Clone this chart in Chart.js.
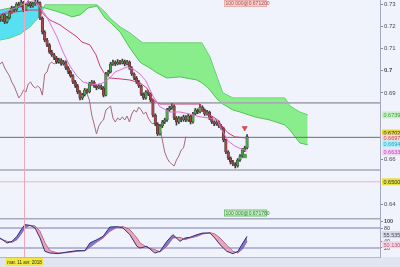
<!DOCTYPE html>
<html>
<head>
<meta charset="utf-8">
<script src="https://cdn.jsdelivr.net/npm/chart.js@4.4.1/dist/chart.umd.min.js"></script>
<style>
    html, body { margin: 0; padding: 0; background: #f0f2fc; }
    #wrap { position: relative; width: 400px; height: 267px; overflow: hidden; }
    canvas { position: absolute; left: 0; }
    #mainChart { top: 0; }
    #stochChart { top: 218px; }
</style>
</head>
<body>
<div id="wrap">
    <canvas id="mainChart" width="400" height="218"></canvas>
    <canvas id="stochChart" width="400" height="49"></canvas>
</div>
<script>
// Daily candles, AUD/USD style prices (index 0 = 28 mars 2018)
const firstOpen = 0.7240;
const closes = [
    0.7228, 0.7251, 0.7219, 0.7237, 0.7264, 0.7282, 0.7273, 0.7300, 0.7291, 0.7309,
    0.7273, 0.7296, 0.7305, 0.7291, 0.7300, 0.7309, 0.7305, 0.7237, 0.7174, 0.7138,
    0.7116, 0.7084, 0.7071, 0.7057, 0.7039, 0.7048, 0.7030, 0.7039, 0.7012, 0.6994,
    0.6976, 0.6949, 0.6931, 0.6904, 0.6877, 0.6891, 0.6913, 0.6904, 0.6940, 0.6949,
    0.6931, 0.6922, 0.6931, 0.6922, 0.6890, 0.6985, 0.6994, 0.7030, 0.7039, 0.7030,
    0.7039, 0.7034, 0.7043, 0.7030, 0.7039, 0.7012, 0.6985, 0.6967, 0.6949, 0.6931,
    0.6895, 0.6877, 0.6904, 0.6895, 0.6868, 0.6800, 0.6760, 0.6715, 0.6751, 0.6769,
    0.6778, 0.6823, 0.6832, 0.6841, 0.6787, 0.6769, 0.6787, 0.6778, 0.6792, 0.6778,
    0.6796, 0.6769, 0.6805, 0.6823, 0.6814, 0.6836, 0.6823, 0.6805, 0.6814, 0.6787,
    0.6769, 0.6760, 0.6769, 0.6751, 0.6742, 0.6688, 0.6634, 0.6607, 0.6589, 0.6580,
    0.6571, 0.6598, 0.6616, 0.6643, 0.6652, 0.6703
];
const highs = [
    0.7248, 0.7258, 0.7256, 0.7244, 0.7270, 0.7290, 0.7288, 0.7306, 0.7308, 0.7318,
    0.7312, 0.7302, 0.7314, 0.7310, 0.7308, 0.7320, 0.7322, 0.7310, 0.7242, 0.7180,
    0.7146, 0.7122, 0.7092, 0.7078, 0.7064, 0.7056, 0.7054, 0.7046, 0.7044, 0.7018,
    0.7000, 0.6982, 0.6956, 0.6938, 0.6910, 0.6898, 0.6920, 0.6918, 0.6948, 0.6956,
    0.6954, 0.6938, 0.6940, 0.6936, 0.6928, 0.6992, 0.7002, 0.7038, 0.7048, 0.7044,
    0.7050, 0.7046, 0.7052, 0.7048, 0.7046, 0.7044, 0.7018, 0.6990, 0.6974, 0.6956,
    0.6936, 0.6900, 0.6910, 0.6912, 0.6900, 0.6872, 0.6806, 0.6766, 0.6758, 0.6776,
    0.6786, 0.6830, 0.6840, 0.6852, 0.6846, 0.6794, 0.6794, 0.6792, 0.6800, 0.6798,
    0.6804, 0.6800, 0.6812, 0.6830, 0.6828, 0.6848, 0.6842, 0.6828, 0.6822, 0.6818,
    0.6792, 0.6774, 0.6776, 0.6774, 0.6758, 0.6746, 0.6692, 0.6640, 0.6612, 0.6596,
    0.6586, 0.6604, 0.6622, 0.6650, 0.6660, 0.6712
];
const lows = [
    0.7220, 0.7222, 0.7212, 0.7214, 0.7232, 0.7258, 0.7266, 0.7268, 0.7285, 0.7287,
    0.7265, 0.7270, 0.7290, 0.7284, 0.7286, 0.7295, 0.7298, 0.7230, 0.7165, 0.7130,
    0.7108, 0.7078, 0.7064, 0.7050, 0.7032, 0.7034, 0.7024, 0.7025, 0.7005, 0.6986,
    0.6970, 0.6942, 0.6924, 0.6896, 0.6868, 0.6870, 0.6886, 0.6898, 0.6900, 0.6934,
    0.6925, 0.6914, 0.6918, 0.6915, 0.6882, 0.6886, 0.6978, 0.6990, 0.7024, 0.7022,
    0.7026, 0.7028, 0.7030, 0.7022, 0.7026, 0.7006, 0.6978, 0.6960, 0.6942, 0.6924,
    0.6888, 0.6870, 0.6872, 0.6888, 0.6860, 0.6792, 0.6752, 0.6708, 0.6710, 0.6744,
    0.6762, 0.6772, 0.6816, 0.6826, 0.6780, 0.6755, 0.6762, 0.6770, 0.6772, 0.6770,
    0.6772, 0.6760, 0.6764, 0.6800, 0.6806, 0.6810, 0.6816, 0.6798, 0.6800, 0.6780,
    0.6762, 0.6752, 0.6754, 0.6744, 0.6736, 0.6680, 0.6626, 0.6600, 0.6580, 0.6572,
    0.6562, 0.6566, 0.6592, 0.6610, 0.6636, 0.6648
];

// Ichimoku lines (x = candle index)
const tenkanX = [0, 4.25, 8.5, 11.9, 14.4, 16.1, 17.8, 19.1, 21.2, 24.2, 26.8, 29.7, 32.7, 35.3, 38.2, 41.2, 43.8, 46.7, 48.9,
    51, 54, 56.5, 59.5, 62, 65, 68, 72.2, 76.5, 80.7, 85, 89.2, 92.2, 94.3, 96.9, 99.8, 102.4, 105];
const tenkanY = [0.7255, 0.7273, 0.7291, 0.7309, 0.7314, 0.7300, 0.7273, 0.7255, 0.7215, 0.7152, 0.7084, 0.7021, 0.6976, 0.6949,
    0.6940, 0.6936, 0.6945, 0.6967, 0.6994, 0.7003, 0.7017, 0.7008, 0.6985, 0.6954, 0.6886, 0.6837, 0.6814, 0.6814, 0.6805,
    0.6792, 0.6787, 0.6778, 0.6733, 0.6684, 0.6661, 0.6648, 0.6638];
const kijunX = [0, 6.4, 12.7, 17, 18.7, 21.2, 25.5, 28.5, 32.7, 34.8, 38.2, 40.8, 42.5, 44.2, 46.7, 51, 55.2, 59.5, 62.4,
    65, 68, 85, 86.2, 90, 92.6, 94.3, 96.9, 99.8, 105];
const kijunY = [0.7255, 0.7264, 0.7273, 0.7273, 0.7251, 0.7228, 0.7206, 0.7183, 0.7152, 0.7129, 0.7116, 0.7071, 0.7021, 0.6990,
    0.6967, 0.6963, 0.6958, 0.6945, 0.6922, 0.6868, 0.6850, 0.6850, 0.6814, 0.6796, 0.6778, 0.6751, 0.6720, 0.6702, 0.6697];
const spanX = [0, 4.2, 8.5, 12.7, 17, 19.1, 23.4, 27.6, 30.6, 34, 37.4, 41.2, 44.6, 46.7, 51, 55.2, 59.5, 60.7, 63.7, 66.7,
    70.9, 76.5, 83.7, 85.8, 87.5, 89.2, 92.2, 94.7, 99, 102, 108.3, 114.7, 121, 123.2, 127.4, 130.8];
const spanA = [0.7273, 0.7282, 0.7291, 0.7296, 0.7291, 0.7282, 0.7269, 0.7255, 0.7242, 0.7251, 0.7282, 0.7291, 0.7237, 0.7219,
    0.7174, 0.7102, 0.7039, 0.7030, 0.7012, 0.6990, 0.6967, 0.6972, 0.6958, 0.6945, 0.6931, 0.6913, 0.6873, 0.6850, 0.6823,
    0.6814, 0.6792, 0.6778, 0.6756, 0.6733, 0.6675, 0.6666];
const spanB = [0.7138, 0.7147, 0.7165, 0.7197, 0.7246, 0.7296, 0.7296, 0.7296, 0.7296, 0.7296, 0.7296, 0.7296, 0.7264, 0.7237,
    0.7197, 0.7170, 0.7134, 0.7125, 0.7125, 0.7125, 0.7125, 0.7125, 0.7125, 0.7125, 0.7093, 0.7062, 0.6972, 0.6900, 0.6877,
    0.6877, 0.6877, 0.6877, 0.6877, 0.6841, 0.6814, 0.6801];
const chikouShift = 26;

// Horizontal levels and markers
const levels = [0.6855, 0.6700, 0.6553, 0.6500];
const markerSell = [{ x: 104, y: 0.6742 }];
const markerBuy = [{ x: 104, y: 0.6616 }];

// Stochastic (%K, %D)
const stochX = [0, 3, 5.1, 7.2, 9.3, 10.6, 12.7, 14.9, 17, 19.1, 21.2, 24.6, 28.5, 32.7, 36.1, 38.2, 41.2, 43.8, 46.7, 49.7,
    52.3, 55.2, 58.2, 59.5, 62.4, 65.8, 68, 70.9, 73.5, 76.5, 78.6, 80.7, 83.7, 86.2, 89.2, 91.3, 93.5, 96.4, 99, 101.1, 103.2, 105];
const stochK = [50, 35, 40, 55, 78, 90, 88, 80, 50, 10, 5, 3, 8, 12, 12, 35, 45, 55, 83, 84,
    80, 60, 25, 20, 25, 5, 10, 40, 60, 40, 50, 52, 60, 65, 65, 50, 30, 10, 3, 10, 35, 55];
const stochD = [48, 40, 37, 45, 65, 80, 88, 86, 70, 35, 12, 5, 6, 10, 12, 22, 38, 50, 70, 82,
    84, 75, 50, 35, 22, 15, 8, 25, 50, 52, 45, 50, 55, 62, 66, 62, 50, 28, 10, 5, 18, 40];
const stochLevels = [80, 20];

// Axis ticks
const tickIdx = [3, 24, 29, 35, 41, 47, 53, 59, 68, 77, 83, 90, 96, 101, 107, 113, 119, 125, 133, 137, 143, 149, 156];
const tickLabels = ['avr.', 'mai', '08', '16', '24', 'juin', '11', '19', 'juil.', '13', '23', 'août', '09', '16', '24',
    'sept.', '11', '19', 'oct.', '05', '15', '23', 'nov.'];
const monthTicks = ['avr.', 'mai', 'juin', 'juil.', 'août', 'sept.', 'oct.', 'nov.'];
const priceTicks = [0.73, 0.72, 0.71, 0.70, 0.69, 0.66, 0.64];
const priceTickLabels = ['0.73', '0.72', '0.71', '0.7', '0.69', '0.66', '0.64'];
const stochTicks = [100, 80, 40, 20];
const cursorIdx = 10;
const cursorLabel = 'mar. 11 avr. 2018';

// Right-hand value tags
const priceTags = [
    { v: 0.6801, t: '0.67395', bg: '#c9efc9', fg: '#3f9f3f' },
    { v: 0.6719, t: '0.67027', bg: '#e4d43a', fg: '#333333' },
    { v: 0.6697, t: '0.66973', bg: '#f6dada', fg: '#d04444' },
    { v: 0.6670, t: '0.66946', bg: '#aaf0f8', fg: '#3a9ec0' },
    { v: 0.6634, t: '0.66332', bg: '#f0d6f0', fg: '#c040c0' },
    { v: 0.6500, t: '0.6500', bg: '#e6e03c', fg: '#333333' }
];
const stochTags = [
    { v: 60, t: '55.535', bg: '#d6dae6', fg: '#505060' },
    { v: 30, t: '50.130', bg: '#f0d6e0', fg: '#c05a80' }
];
const orderTop = '100 000@0.671200';
const orderBottom = '100 000@0.671760';

const FONT = '"Liberation Sans", Arial, sans-serif';
const X_MIN = 0, X_MAX = 161.5;

document.addEventListener('DOMContentLoaded', function() {
    initMainChart();
    initStochChart();
});

function pts(xs, ys) {
    return xs.map((x, i) => ({ x: x, y: ys[i] }));
}

// keep the plot area flush with the canvas edges
function noPadding(s) {
    s.paddingTop = 0;
    s.paddingBottom = 0;
    s.paddingLeft = 0;
    s.paddingRight = 0;
}

function drawTag(ctx, x, y, w, h, text, bg, fg, border, size) {
    ctx.fillStyle = bg;
    ctx.fillRect(x, y - h / 2, w, h);
    if (border) {
        ctx.strokeStyle = border;
        ctx.lineWidth = 0.8;
        ctx.strokeRect(x + 0.5, y - h / 2 + 0.5, w - 1, h - 1);
    }
    ctx.fillStyle = fg;
    ctx.font = (size || 5.5) + 'px ' + FONT;
    ctx.textBaseline = 'middle';
    ctx.textAlign = 'left';
    ctx.fillText(text, x + 1.5, y + 0.5);
}

function initMainChart() {
    const ctx = document.getElementById('mainChart');
    const opens = closes.map((c, i) => i === 0 ? firstOpen : closes[i - 1]);
    const idx = closes.map((c, i) => i);

    const overlay = {
        id: 'overlay',
        beforeDraw(chart) {
            const c = chart.ctx;
            c.save();
            c.fillStyle = '#f0f2fc';
            c.fillRect(0, 0, chart.width, chart.height);
            c.restore();
        },
        afterDraw(chart) {
            const c = chart.ctx, area = chart.chartArea;
            const xs = chart.scales.x, ys = chart.scales.y;
            c.save();
            // cursor line
            const cx = Math.round(xs.getPixelForValue(cursorIdx)) + 0.5;
            c.strokeStyle = '#f2a6bc';
            c.lineWidth = 1;
            c.beginPath();
            c.moveTo(cx, area.top);
            c.lineTo(cx, area.bottom);
            c.stroke();
            // value tags on the axis
            priceTags.forEach(tag => {
                drawTag(c, area.right + 2, ys.getPixelForValue(tag.v), 22, 7, tag.t, tag.bg, tag.fg, null);
            });
            // pending order tags
            drawTag(c, 224, area.top + 3.5, 43, 7, orderTop, '#f5d2d2', '#c04848', '#e0a8a8', 5);
            drawTag(c, 224, area.bottom - 5, 43, 7, orderBottom, '#c9efc9', '#2f7f2f', '#66b866', 5);
            c.restore();
        }
    };

    new Chart(ctx, {
        type: 'bar',
        data: {
            datasets: [{
                type: 'line',
                data: pts(spanX, spanA),
                borderColor: '#55c455',
                borderWidth: 1,
                pointRadius: 0,
                fill: { target: 1, above: 'rgba(70, 222, 240, 0.9)', below: 'rgba(120, 236, 120, 0.85)' },
                order: 10
            }, {
                type: 'line',
                data: pts(spanX, spanB),
                borderColor: '#55c455',
                borderWidth: 1,
                pointRadius: 0,
                order: 10
            }].concat(levels.map((lv, k) => ({
                type: 'line',
                data: [{ x: X_MIN, y: lv }, { x: X_MAX, y: lv }],
                borderColor: k === 1 ? '#6a6a78' : (k === 3 ? '#f0b4c4' : '#a9a9b4'),
                borderWidth: k === 1 || k === 3 ? 1 : 1.6,
                pointRadius: 0,
                order: 9
            }))).concat([{
                type: 'line',
                data: closes.slice(chikouShift).map((c, i) => ({ x: i, y: c })),
                borderColor: '#a86a78',
                borderWidth: 1,
                pointRadius: 0,
                order: 8
            }, {
                data: idx.map(i => ({ x: i, y: [lows[i], highs[i]] })),
                backgroundColor: '#3a3a3a',
                barThickness: 1,
                grouped: false,
                order: 6
            }, {
                data: idx.map(i => ({ x: i, y: [opens[i], closes[i]] })),
                backgroundColor: idx.map(i => closes[i] >= opens[i] ? '#4fa34f' : '#a94444'),
                borderColor: '#2a2a2a',
                borderWidth: 0.5,
                borderSkipped: false,
                barThickness: 2.5,
                grouped: false,
                order: 5
            }, {
                type: 'line',
                data: pts(kijunX, kijunY),
                borderColor: '#c8406a',
                borderWidth: 1,
                pointRadius: 0,
                order: 3
            }, {
                type: 'line',
                data: pts(tenkanX, tenkanY),
                borderColor: '#e070d2',
                borderWidth: 1,
                pointRadius: 0,
                order: 2
            }, {
                type: 'line',
                data: markerSell,
                showLine: false,
                pointStyle: 'triangle',
                rotation: 180,
                pointRadius: 3,
                backgroundColor: '#e84a4a',
                borderColor: '#c03030',
                borderWidth: 0.5,
                order: 1
            }, {
                type: 'line',
                data: markerBuy,
                showLine: false,
                pointStyle: 'rect',
                pointRadius: 2.5,
                backgroundColor: '#3fb03f',
                borderColor: '#2a802a',
                borderWidth: 0.5,
                order: 1
            }])
        },
        options: {
            responsive: false,
            animation: false,
            layout: { padding: 0, autoPadding: false },
            plugins: { legend: { display: false }, tooltip: { enabled: false } },
            scales: {
                x: {
                    type: 'linear',
                    min: X_MIN,
                    max: X_MAX,
                    offset: false,
                    display: false
                },
                y: {
                    position: 'right',
                    min: 0.6337,
                    max: 0.7318,
                    afterFit: s => { s.width = 20; noPadding(s); },
                    afterBuildTicks: s => { s.ticks = priceTicks.map(v => ({ value: v })); },
                    grid: { drawOnChartArea: false, tickLength: 3, color: '#8a8a9a' },
                    border: { color: '#a4a8bc' },
                    ticks: {
                        padding: 1,
                        color: '#4a4a52',
                        font: c => ({ family: FONT, size: 6, weight: c.tick && c.tick.value === 0.7 ? 'bold' : 'normal' }),
                        callback: v => priceTickLabels[priceTicks.indexOf(v)]
                    }
                }
            }
        },
        plugins: [overlay]
    });
}

function initStochChart() {
    const ctx = document.getElementById('stochChart');

    const overlay = {
        id: 'stochOverlay',
        beforeDraw(chart) {
            const c = chart.ctx, area = chart.chartArea;
            c.save();
            c.fillStyle = '#f0f2fc';
            c.fillRect(0, 0, chart.width, chart.height);
            c.fillStyle = '#e1e5f1';
            c.fillRect(0, area.bottom, chart.width, chart.height - area.bottom);
            c.restore();
        },
        afterDraw(chart) {
            const c = chart.ctx, area = chart.chartArea;
            const xs = chart.scales.x, ys = chart.scales.y;
            c.save();
            // panel separator
            c.strokeStyle = '#a6aabe';
            c.lineWidth = 1.5;
            c.beginPath();
            c.moveTo(0, 0.75);
            c.lineTo(area.right, 0.75);
            c.stroke();
            // cursor line
            const cx = Math.round(xs.getPixelForValue(cursorIdx)) + 0.5;
            c.strokeStyle = '#f2a6bc';
            c.lineWidth = 1;
            c.beginPath();
            c.moveTo(cx, area.top);
            c.lineTo(cx, area.bottom);
            c.stroke();
            // value tags
            stochTags.forEach(tag => {
                drawTag(c, area.right + 2, ys.getPixelForValue(tag.v), 22, 7, tag.t, tag.bg, tag.fg, null);
            });
            // cursor date tag
            c.font = '4.5px ' + FONT;
            const w = c.measureText(cursorLabel).width + 3;
            const y0 = area.bottom + 1;
            c.fillStyle = '#f0e840';
            c.fillRect(cx - w / 2, y0, w, 8);
            c.fillStyle = '#2a2a2a';
            c.textAlign = 'center';
            c.textBaseline = 'middle';
            c.fillText(cursorLabel, cx, y0 + 4.5);
            c.restore();
        }
    };

    new Chart(ctx, {
        type: 'line',
        data: {
            datasets: [{
                data: pts(stochX, stochK),
                borderColor: '#303078',
                borderWidth: 1,
                pointRadius: 0,
                fill: { target: 1, above: 'rgba(92, 92, 204, 0.8)', below: 'rgba(236, 146, 166, 0.8)' },
                order: 2
            }, {
                data: pts(stochX, stochD),
                borderColor: '#b45a72',
                borderWidth: 1,
                pointRadius: 0,
                order: 2
            }].concat(stochLevels.map(lv => ({
                data: [{ x: X_MIN, y: lv }, { x: X_MAX, y: lv }],
                borderColor: '#7a7abc',
                borderWidth: 1.2,
                pointRadius: 0,
                order: 5
            })))
        },
        options: {
            responsive: false,
            animation: false,
            layout: { padding: 0, autoPadding: false },
            plugins: { legend: { display: false }, tooltip: { enabled: false } },
            scales: {
                x: {
                    type: 'linear',
                    min: X_MIN,
                    max: X_MAX,
                    afterFit: s => { s.height = 10; noPadding(s); },
                    afterBuildTicks: s => { s.ticks = tickIdx.map(v => ({ value: v })); },
                    grid: { display: false },
                    border: { color: '#b4b8cc' },
                    ticks: {
                        autoSkip: false,
                        maxRotation: 0,
                        padding: 1,
                        color: '#333338',
                        font: c => ({ family: FONT, size: 5.5, weight: monthTicks.includes(tickLabels[c.index]) ? 'bold' : 'normal' }),
                        callback: v => tickLabels[tickIdx.indexOf(v)]
                    }
                },
                y: {
                    position: 'right',
                    min: -7,
                    max: 110,
                    afterFit: s => { s.width = 20; noPadding(s); },
                    afterBuildTicks: s => { s.ticks = stochTicks.map(v => ({ value: v })); },
                    grid: { drawOnChartArea: false, tickLength: 3, color: '#8a8a9a' },
                    border: { color: '#a4a8bc' },
                    ticks: {
                        padding: 1,
                        color: '#4a4a52',
                        font: c => ({ family: FONT, size: 5.5, weight: c.tick && c.tick.value === 100 ? 'bold' : 'normal' }),
                        callback: v => String(v)
                    }
                }
            }
        },
        plugins: [overlay]
    });
}
</script>
</body>
</html>
